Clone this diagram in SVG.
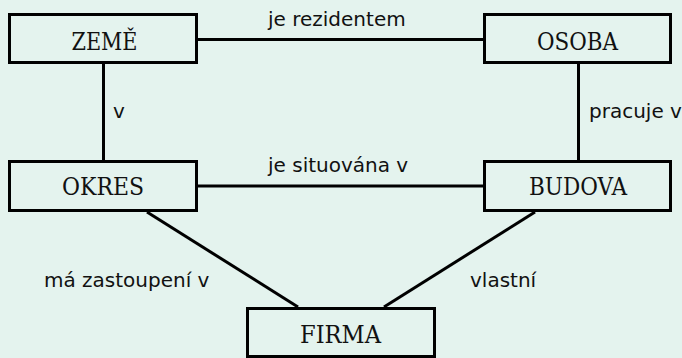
<svg xmlns="http://www.w3.org/2000/svg" width="682" height="358" viewBox="0 0 682 358">
  <style>
    .box { fill: #e4f3ee; stroke: #000; stroke-width: 3; }
    .name { font-family: "DejaVu Serif", "Liberation Mono", monospace; font-stretch: condensed; font-size: 25px; fill: #111; text-anchor: middle; }
    .edge { stroke: #000; stroke-width: 3; fill: none; }
    .lbl { font-family: "DejaVu Sans", sans-serif; font-size: 20px; fill: #111; }
  </style>
  <rect width="682" height="358" fill="#e4f3ee"/>

  <!-- relationships between entities -->
  <g id="connectors">
    <line class="edge" x1="197" y1="39.5" x2="483" y2="39.5"/>
    <line class="edge" x1="197" y1="186" x2="483" y2="186"/>
    <line class="edge" x1="103.5" y1="64" x2="103.5" y2="160"/>
    <line class="edge" x1="578.5" y1="64" x2="578.5" y2="160"/>
    <line class="edge" x1="147" y1="212" x2="298" y2="307"/>
    <line class="edge" x1="535" y1="212" x2="384" y2="307"/>
    <text class="lbl" x="268" y="25.5">je rezidentem</text>
    <text class="lbl" x="113" y="118">v</text>
    <text class="lbl" x="589" y="118">pracuje v</text>
    <text class="lbl" x="268" y="172">je situována v</text>
    <text class="lbl" x="44" y="287">má zastoupení v</text>
    <text class="lbl" x="470" y="287">vlastní</text>
  </g>

  <g id="zeme">
    <rect class="box" x="9.5" y="14.5" width="187" height="48"/>
    <text class="name" x="104.5" y="50" textLength="66" lengthAdjust="spacingAndGlyphs">ZEMĚ</text>
  </g>
  <g id="osoba">
    <rect class="box" x="484.5" y="14.5" width="186" height="48"/>
    <text class="name" x="577.5" y="50" textLength="81" lengthAdjust="spacingAndGlyphs">OSOBA</text>
  </g>
  <g id="okres">
    <rect class="box" x="9.5" y="161.5" width="187" height="49"/>
    <text class="name" x="103" y="195" textLength="82" lengthAdjust="spacingAndGlyphs">OKRES</text>
  </g>
  <g id="budova">
    <rect class="box" x="484.5" y="161.5" width="186" height="49"/>
    <text class="name" x="578" y="195" textLength="98" lengthAdjust="spacingAndGlyphs">BUDOVA</text>
  </g>
  <g id="firma">
    <rect class="box" x="247.5" y="308.5" width="187" height="48"/>
    <text class="name" x="340.5" y="342.5" textLength="81" lengthAdjust="spacingAndGlyphs">FIRMA</text>
  </g>
</svg>
